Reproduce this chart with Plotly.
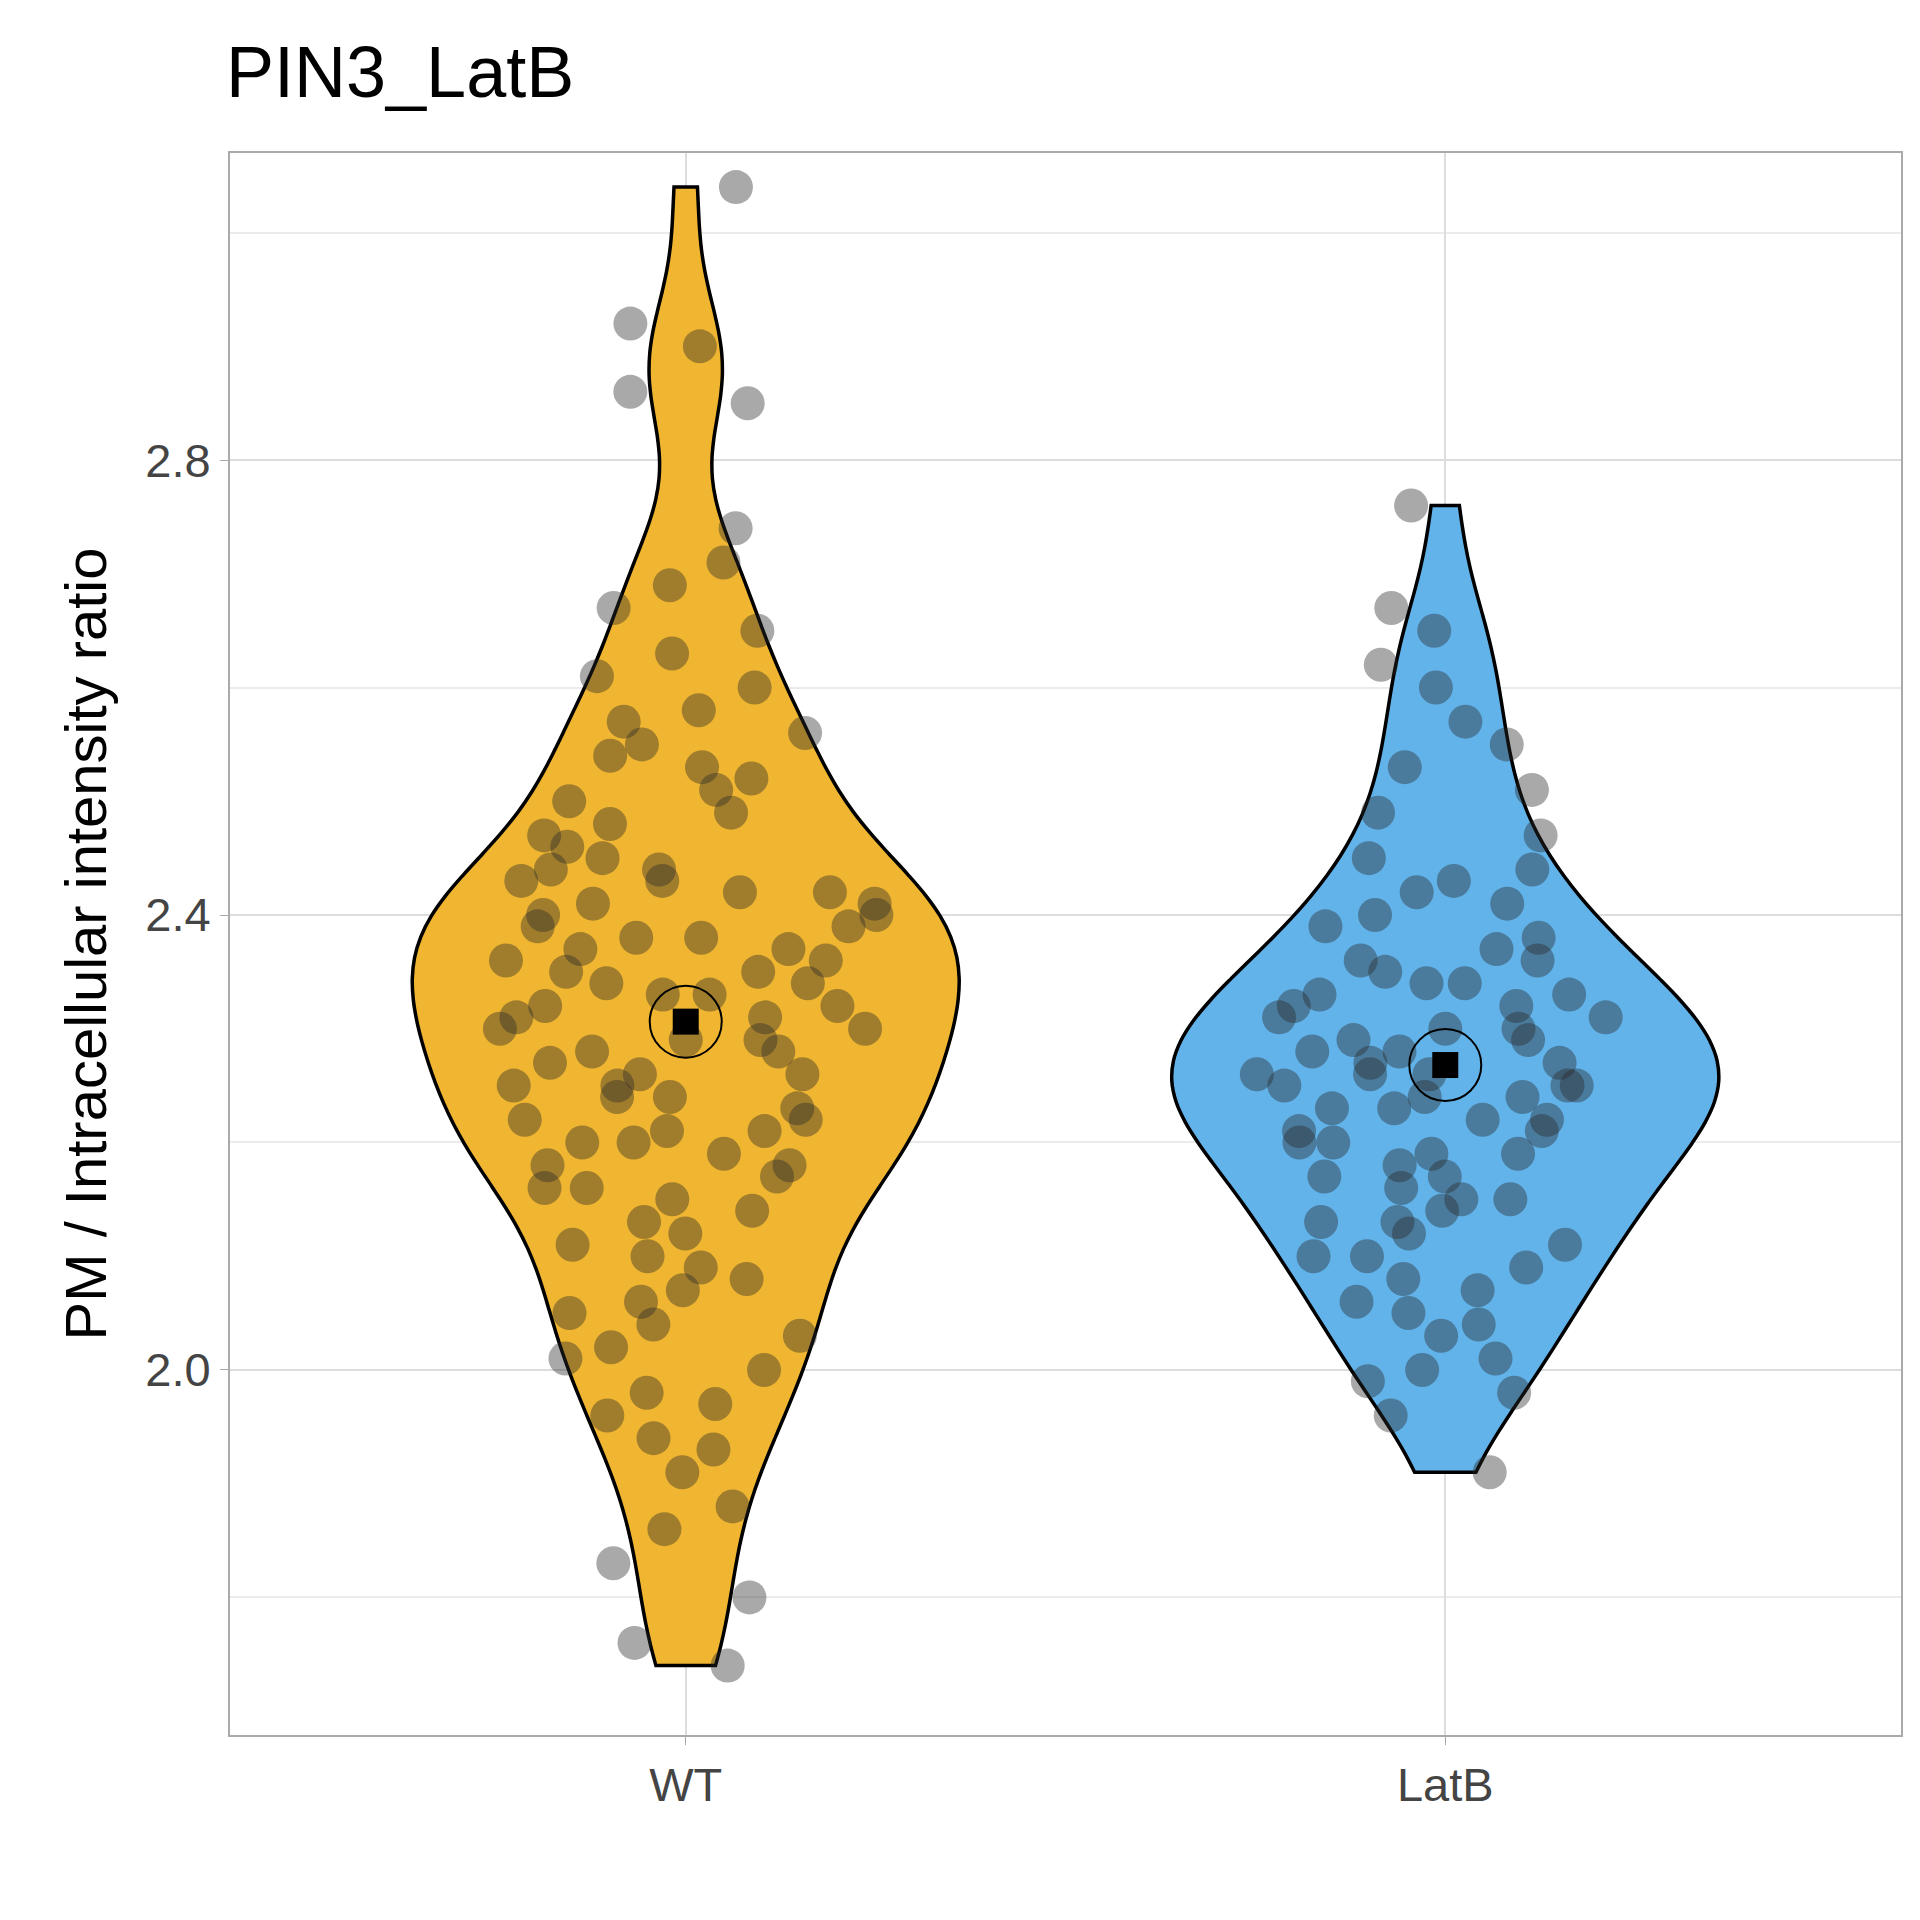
import numpy as np
import plotly.graph_objects as go

groups = ["WT", "LatB"]
fill_colors = {"WT": "#F0B631", "LatB": "#62B3EA"}

wt_values = [
    1.74, 1.76, 1.80, 1.83, 1.86, 1.88, 1.91, 1.93, 1.94, 1.96, 1.97, 1.98,
    2.00, 2.01, 2.02, 2.03, 2.04, 2.05, 2.06, 2.07, 2.08, 2.09, 2.10, 2.11,
    2.12, 2.13, 2.14, 2.15, 2.16, 2.16, 2.17, 2.18, 2.18, 2.19, 2.20, 2.20,
    2.21, 2.21, 2.22, 2.22, 2.23, 2.24, 2.24, 2.25, 2.25, 2.26, 2.26, 2.27,
    2.28, 2.28, 2.29, 2.29, 2.30, 2.30, 2.31, 2.31, 2.32, 2.32, 2.33, 2.33,
    2.34, 2.34, 2.35, 2.35, 2.36, 2.36, 2.37, 2.37, 2.38, 2.38, 2.39, 2.39,
    2.40, 2.40, 2.41, 2.41, 2.42, 2.42, 2.43, 2.43, 2.44, 2.44, 2.45, 2.46,
    2.47, 2.48, 2.49, 2.50, 2.51, 2.52, 2.53, 2.54, 2.55, 2.56, 2.57, 2.58,
    2.60, 2.61, 2.63, 2.65, 2.67, 2.69, 2.71, 2.74, 2.85, 2.86, 2.90, 2.92,
    3.04,
]

latb_values = [
    1.91, 1.96, 1.98, 1.99, 2.00, 2.01, 2.03, 2.04, 2.05, 2.06, 2.07, 2.08,
    2.09, 2.10, 2.10, 2.11, 2.12, 2.13, 2.13, 2.14, 2.15, 2.15, 2.16, 2.17,
    2.17, 2.18, 2.19, 2.19, 2.20, 2.20, 2.21, 2.21, 2.22, 2.22, 2.23, 2.23,
    2.24, 2.24, 2.25, 2.25, 2.25, 2.26, 2.26, 2.26, 2.27, 2.27, 2.28, 2.28,
    2.29, 2.29, 2.30, 2.30, 2.31, 2.31, 2.32, 2.32, 2.33, 2.33, 2.34, 2.34,
    2.35, 2.36, 2.36, 2.37, 2.38, 2.39, 2.40, 2.41, 2.42, 2.43, 2.44, 2.45,
    2.47, 2.49, 2.51, 2.53, 2.55, 2.57, 2.60, 2.62, 2.65, 2.67, 2.76,
]

data = {"WT": wt_values, "LatB": latb_values}

fig = go.Figure()

for g in groups:
    fig.add_trace(go.Violin(
        x=[g] * len(data[g]),
        y=data[g],
        name=g,
        fillcolor=fill_colors[g],
        opacity=1,
        line=dict(color="black", width=3.5),
        points="all",
        pointpos=0,
        jitter=0.7,
        marker=dict(color="rgba(40,40,40,0.4)", size=34, line=dict(width=0)),
        width=0.72,
        bandwidth=0.055,
        spanmode="hard",
        showlegend=False,
        hoveron="points",
    ))

# mean markers
means = [float(np.mean(data[g])) for g in groups]
fig.add_trace(go.Scatter(
    x=groups, y=means, mode="markers",
    marker=dict(symbol="square", size=26, color="black"),
    showlegend=False,
))
fig.add_trace(go.Scatter(
    x=groups, y=means, mode="markers",
    marker=dict(symbol="circle-open", size=72, color="black", line=dict(width=2)),
    showlegend=False,
))

fig.update_layout(
    width=1920, height=1920,
    paper_bgcolor="white", plot_bgcolor="white",
    font=dict(family="Liberation Sans, Arial, sans-serif", color="black"),
    title=dict(text="PIN3_LatB", x=218 / 1920, xanchor="left", y=0.967,
               yanchor="middle", font=dict(size=72, color="black")),
    margin=dict(l=222, r=27, t=145, b=193),
    xaxis=dict(
        range=[-0.6, 1.6], showgrid=True, gridcolor="#DDDDDD", gridwidth=2,
        showline=True, linecolor="#AAAAAA", linewidth=2, mirror=True,
        ticks="outside", ticklen=8, tickcolor="#AAAAAA",
        tickfont=dict(size=47, color="#444444"), zeroline=False,
    ),
    yaxis=dict(
        range=[1.679, 3.07], tick0=2.0, dtick=0.4, tickformat=".1f",
        showgrid=True, gridcolor="#DDDDDD", gridwidth=2,
        minor=dict(dtick=0.2, tick0=2.0, showgrid=True, gridcolor="#EBEBEB", gridwidth=1.5),
        showline=True, linecolor="#AAAAAA", linewidth=2, mirror=True,
        ticks="outside", ticklen=8, tickcolor="#AAAAAA",
        tickfont=dict(size=47, color="#444444"), zeroline=False,
        title=dict(text="PM / Intracellular intensity ratio", font=dict(size=58), standoff=20),
    ),
)

fig.write_html("out.html")
